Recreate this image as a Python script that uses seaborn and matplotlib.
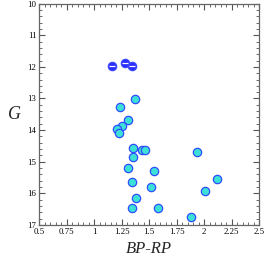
import matplotlib
matplotlib.use("Agg")
import matplotlib.pyplot as plt
import seaborn as sns
import pandas as pd
from matplotlib.ticker import MultipleLocator, FixedLocator, FixedFormatter

sns.set_theme(style="white")
plt.rcParams['font.family'] = ['Liberation Serif', 'DejaVu Serif']

# bright (blue) stars
blue_bprp = [1.166, 1.285, 1.343]
blue_g = [11.97, 11.89, 11.97]

# other members (cyan)
cyan_bprp = [1.370, 1.233, 1.306, 1.252, 1.212, 1.230, 1.352, 1.439, 1.460, 1.352,
             1.934, 1.306, 1.543, 1.348, 2.121, 1.521, 2.006, 1.385, 1.345, 1.582, 1.882]
cyan_g = [13.01, 13.26, 13.67, 13.88, 13.97, 14.09, 14.55, 14.62, 14.63, 14.85,
          14.68, 15.19, 15.29, 15.65, 15.56, 15.80, 15.93, 16.16, 16.45, 16.46, 16.76]

xticks = [0.5, 0.75, 1, 1.25, 1.5, 1.75, 2, 2.25, 2.5]
xticklabels = ["0.5", "0.75", "1", "1.25", "1.5", "1.75", "2", "2.25", "2.5"]
yticks = [10, 11, 12, 13, 14, 15, 16, 17]
yticklabels = ["10", "11", "12", "13", "14", "15", "16", "17"]

df_blue = pd.DataFrame({"BP-RP": blue_bprp, "G": blue_g})
df_cyan = pd.DataFrame({"BP-RP": cyan_bprp, "G": cyan_g})

fig = plt.figure(figsize=(2.66, 2.56), dpi=100)
ax = fig.add_axes([0.147, 0.121, 0.827, 0.865])

sns.scatterplot(data=df_cyan, x="BP-RP", y="G", ax=ax, s=36, color="#3de0d6",
                edgecolor="#2f4cff", linewidth=0.9, zorder=3)
sns.scatterplot(data=df_blue, x="BP-RP", y="G", ax=ax, s=36, color="#2a2cff",
                edgecolor="#3a48ff", linewidth=0.9, zorder=3)
sns.scatterplot(data=df_blue, x="BP-RP", y="G", ax=ax, s=22, marker="_",
                color="white", linewidth=0.9, zorder=4)

ax.set_xlim(0.5, 2.5)
ax.set_ylim(17, 10)
ax.xaxis.set_major_locator(FixedLocator(xticks))
ax.xaxis.set_major_formatter(FixedFormatter(xticklabels))
ax.xaxis.set_minor_locator(MultipleLocator(0.05))
ax.yaxis.set_major_locator(FixedLocator(yticks))
ax.yaxis.set_major_formatter(FixedFormatter(yticklabels))
ax.yaxis.set_minor_locator(MultipleLocator(0.2))

ax.tick_params(which="both", direction="in", top=True, right=True, bottom=True, left=True,
               colors="#555555", labelcolor="black", labelsize=6.3)
ax.tick_params(axis="x", pad=2.5)
ax.tick_params(axis="y", pad=2.0)
ax.tick_params(which="major", length=4, width=0.8)
ax.tick_params(which="minor", length=2.2, width=0.6)
for sp in ax.spines.values():
    sp.set_color("#666666")
    sp.set_linewidth(0.9)

ax.set_xlabel("BP-RP", fontsize=12, style="italic", labelpad=3)
ax.set_ylabel("G", fontsize=13, style="italic", rotation=0, labelpad=9, va="center")
ax.grid(False)

fig.savefig("out.png", dpi=100)
